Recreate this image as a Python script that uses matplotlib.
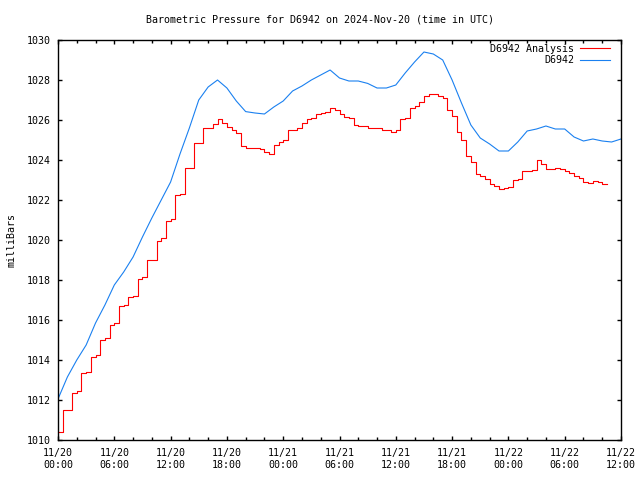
from datetime import datetime, timedelta

import numpy as np
import matplotlib
matplotlib.use('Agg')
import matplotlib.pyplot as plt
import matplotlib.dates as mdates

start = datetime(2024, 11, 20, 0, 0)

# D6942 observed, hourly (hours since 11/20 00:00 UTC)
obs_hours = list(range(0, 61))
obs_mb = [1012.05, 1013.15, 1014.0, 1014.75, 1015.85, 1016.75, 1017.75, 1018.4,
          1019.15, 1020.15, 1021.1, 1022.0, 1022.9, 1024.3, 1025.6, 1027.0,
          1027.65, 1028.0, 1027.6, 1026.95, 1026.42, 1026.35, 1026.3, 1026.65,
          1026.95, 1027.45, 1027.7, 1028.0, 1028.25, 1028.5, 1028.1, 1027.95,
          1027.95, 1027.83, 1027.6, 1027.6, 1027.75, 1028.35, 1028.9, 1029.4,
          1029.3, 1029.0, 1028.0, 1026.85, 1025.75, 1025.1, 1024.8, 1024.45,
          1024.45, 1024.9, 1025.45, 1025.55, 1025.7, 1025.55, 1025.55, 1025.15,
          1024.95, 1025.05, 1024.95, 1024.9, 1025.05]

# D6942 analysis, every half hour
ana_hours = [i * 0.5 for i in range(0, 118)]
ana_mb = [1010.4, 1011.5, 1011.5, 1012.35, 1012.45, 1013.35, 1013.4, 1014.15,
          1014.25, 1015.0, 1015.1, 1015.75, 1015.85, 1016.7, 1016.75, 1017.15,
          1017.2, 1018.05, 1018.15, 1019.0, 1019.0, 1019.95, 1020.1, 1020.95,
          1021.05, 1022.25, 1022.3, 1023.58, 1023.6, 1024.83, 1024.85, 1025.58,
          1025.6, 1025.8, 1026.05, 1025.85, 1025.65, 1025.5, 1025.35, 1024.7,
          1024.6, 1024.6, 1024.6, 1024.55, 1024.4, 1024.3, 1024.75, 1024.9,
          1025.0, 1025.5, 1025.5, 1025.6, 1025.83, 1026.05, 1026.12, 1026.3,
          1026.33, 1026.4, 1026.6, 1026.5, 1026.3, 1026.15, 1026.08, 1025.75,
          1025.72, 1025.7, 1025.6, 1025.6, 1025.6, 1025.5, 1025.5, 1025.4,
          1025.5, 1026.05, 1026.08, 1026.6, 1026.7, 1026.9, 1027.2, 1027.3,
          1027.3, 1027.2, 1027.12, 1026.5, 1026.2, 1025.4, 1025.0, 1024.2,
          1023.9, 1023.3, 1023.2, 1023.05, 1022.8, 1022.7, 1022.55, 1022.6,
          1022.65, 1023.0, 1023.05, 1023.45, 1023.45, 1023.5, 1024.0, 1023.8,
          1023.55, 1023.55, 1023.58, 1023.55, 1023.47, 1023.35, 1023.2, 1023.1,
          1022.9, 1022.87, 1022.95, 1022.9, 1022.8, 1022.8]

obs_t = [start + timedelta(hours=h) for h in obs_hours]
ana_t = [start + timedelta(hours=h) for h in ana_hours]

plt.rcParams['font.family'] = 'DejaVu Sans Mono'
plt.rcParams['font.size'] = 7.2

fig = plt.figure(figsize=(6.4, 4.8), dpi=100)
ax = fig.add_axes([58/640, 40/480, 563/640, 400/480])

ax.plot(ana_t, ana_mb, c='#ff0000', lw=0.8, drawstyle='steps-post', label='D6942 Analysis')
ax.plot(obs_t, obs_mb, c='#1a80f0', lw=0.8, label='D6942')

ax.set_xlim(start, start + timedelta(hours=60))
ax.set_ylim(1010, 1030)
ax.set_yticks(np.arange(1010, 1031, 2))

ax.xaxis.set_major_locator(mdates.HourLocator(byhour=[0, 6, 12, 18]))
ax.xaxis.set_minor_locator(mdates.HourLocator(interval=2))
ax.xaxis.set_major_formatter(mdates.DateFormatter('%m/%d\n%H:%M'))

ax.tick_params(which='both', direction='in', top=True, right=True, width=1)
ax.tick_params(which='major', length=3, pad=6)
ax.tick_params(which='minor', length=2)
ax.tick_params(axis='y', pad=5)
for s in ax.spines.values():
    s.set_linewidth(1)

leg = ax.legend(loc='upper right', bbox_to_anchor=(0.9805, 0.99), frameon=False,
                markerfirst=False, handlelength=3, handletextpad=0.6,
                labelspacing=0.15, borderpad=0, borderaxespad=0)

fig.text(0.5, 1 - 19/480, 'Barometric Pressure for D6942 on 2024-Nov-20 (time in UTC)',
         ha='center', va='center')
fig.text(12/640, 0.5, 'milliBars', rotation=90, ha='center', va='center')

plt.savefig('out.png', dpi=100)
